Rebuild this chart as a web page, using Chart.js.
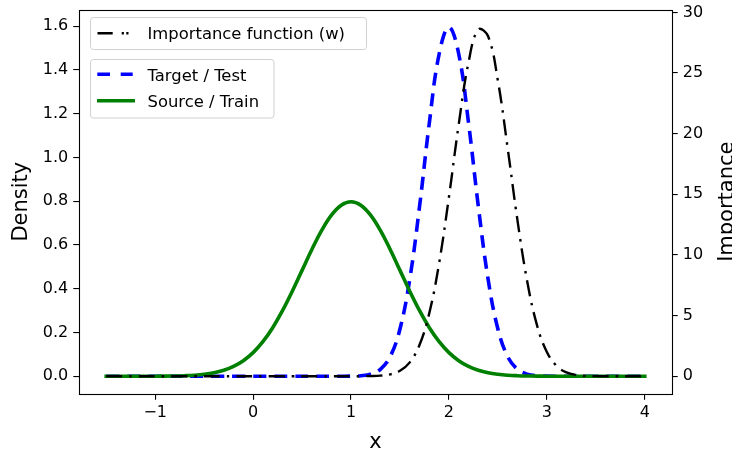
<!DOCTYPE html>
<html>
<head>
<meta charset="utf-8">
<script src="https://cdn.jsdelivr.net/npm/chart.js"></script>
<style>
  html, body { margin: 0; padding: 0; background: #fff; }
  #wrap { position: relative; width: 732px; height: 453px; }
  #legend { position: absolute; left: 0; top: 0; pointer-events: none; }
</style>
</head>
<body>
<div id="wrap">
  <canvas id="chart" width="732" height="453"></canvas>

  <!-- Légendes (deux boîtes séparées comme dans l'original) -->
  <svg id="legend" width="732" height="453" font-family="DejaVu Sans" font-size="16.4" fill="#000">
    <rect x="90.5" y="17.5" width="276" height="32" rx="3" fill="#fff" fill-opacity="0.8" stroke="#d0d0d0"/>
    <line x1="97.5" y1="33.3" x2="129" y2="33.3" stroke="#000" stroke-width="2.4" stroke-dasharray="15.2 9 2.2 2.4 2.2 100"/>
    <text x="147.5" y="39">Importance function (w)</text>

    <rect x="90.5" y="59.5" width="183.5" height="58.5" rx="3" fill="#fff" fill-opacity="0.8" stroke="#d0d0d0"/>
    <line x1="97.3" y1="74.3" x2="133" y2="74.3" stroke="#0000ff" stroke-width="3.6" stroke-dasharray="12.7 10.7 12 100"/>
    <text x="147.5" y="81.3">Target / Test</text>
    <line x1="97" y1="100.7" x2="135" y2="100.7" stroke="#008000" stroke-width="3.6"/>
    <text x="147.5" y="107.3">Source / Train</text>
  </svg>
</div>

<script>
  // Abscisses échantillonnées (pas de 0.1)
  const xValues = [
    -1.5, -1.4, -1.3, -1.2, -1.1, -1.0, -0.9, -0.8, -0.7, -0.6,
    -0.5, -0.4, -0.3, -0.2, -0.1, 0.0, 0.1, 0.2, 0.3, 0.4,
    0.5, 0.6, 0.7, 0.8, 0.9, 1.0, 1.1, 1.2, 1.3, 1.4,
    1.5, 1.6, 1.7, 1.8, 1.9, 2.0, 2.1, 2.2, 2.3, 2.4,
    2.5, 2.6, 2.7, 2.8, 2.9, 3.0, 3.1, 3.2, 3.3, 3.4,
    3.5, 3.6, 3.7, 3.8, 3.9, 4.0
  ];

  // Source / Train (vert)
  const sourceValues = [
    0, 0, 0, 0, 0.0001, 0.0003, 0.0006, 0.0012, 0.0025, 0.0048,
    0.0089, 0.0158, 0.0272, 0.0448, 0.0710, 0.1080, 0.1579, 0.2218, 0.2995, 0.3884,
    0.4839, 0.5794, 0.6665, 0.7365, 0.7821, 0.7979, 0.7821, 0.7365, 0.6665, 0.5794,
    0.4839, 0.3884, 0.2995, 0.2218, 0.1579, 0.1080, 0.0710, 0.0448, 0.0272, 0.0158,
    0.0089, 0.0048, 0.0025, 0.0012, 0.0006, 0.0003, 0.0001, 0, 0, 0,
    0, 0, 0, 0, 0, 0
  ];

  // Target / Test (bleu)
  const targetValues = [
    0, 0, 0, 0, 0, 0, 0, 0, 0, 0,
    0, 0, 0, 0, 0, 0, 0, 0, 0, 0,
    0, 0, 0, 0, 0.0001, 0.0005, 0.0024, 0.0095, 0.0317, 0.0896,
    0.2160, 0.4437, 0.7767, 1.1588, 1.4731, 1.5958, 1.4731, 1.1588, 0.7767, 0.4437,
    0.2160, 0.0896, 0.0317, 0.0095, 0.0024, 0.0005, 0.0001, 0, 0, 0,
    0, 0, 0, 0, 0, 0
  ];

  // Importance function (w), axe de droite
  const importanceValues = [
    0, 0, 0, 0, 0, 0, 0, 0, 0, 0,
    0, 0, 0, 0, 0, 0, 0, 0, 0, 0,
    0, 0, 0, 0, 0.0001, 0.0007, 0.0031, 0.0129, 0.0475, 0.1546,
    0.4463, 1.1425, 2.594, 5.223, 9.329, 14.778, 20.76, 25.87, 28.59, 28.03,
    24.36, 18.79, 12.85, 7.79, 4.19, 2.0, 0.846, 0.318, 0.106, 0.031,
    0.0082, 0.0019, 0.0004, 0.0001, 0, 0
  ];

  // Graduations
  const xTicks = [-1, 0, 1, 2, 3, 4];
  const xTickLabels = ['−1', '0', '1', '2', '3', '4'];
  const densityTicks = [0, 0.2, 0.4, 0.6, 0.8, 1.0, 1.2, 1.4, 1.6];
  const densityTickLabels = ['0.0', '0.2', '0.4', '0.6', '0.8', '1.0', '1.2', '1.4', '1.6'];
  const importanceTicks = [0, 5, 10, 15, 20, 25, 30];
  const importanceTickLabels = ['0', '5', '10', '15', '20', '25', '30'];

  const FONT = 'DejaVu Sans';
  const toPoints = vals => xValues.map((x, i) => ({ x: x, y: vals[i] }));

  // Cadre complet + titre de l'axe de droite (lu de bas en haut)
  const framePlugin = {
    id: 'frame',
    afterDraw(chart) {
      const { ctx, chartArea: a } = chart;
      ctx.save();
      ctx.strokeStyle = '#000';
      ctx.lineWidth = 1.1;
      ctx.strokeRect(Math.round(a.left) + 0.5, Math.round(a.top) + 0.5,
        Math.round(a.right) - Math.round(a.left), Math.round(a.bottom) - Math.round(a.top));
      ctx.translate(chart.width + 0.6, (a.top + a.bottom) / 2);
      ctx.rotate(-Math.PI / 2);
      ctx.font = '21px "' + FONT + '"';
      ctx.fillStyle = '#000';
      ctx.textAlign = 'center';
      ctx.textBaseline = 'alphabetic';
      ctx.fillText('Importance', 0, 0);
      ctx.restore();
    }
  };

  const tickGrid = { display: true, drawOnChartArea: false, drawTicks: true, tickLength: 6, color: '#000', lineWidth: 1.1 };

  new Chart(document.getElementById('chart').getContext('2d'), {
    type: 'line',
    data: {
      datasets: [
        {
          label: 'Importance function (w)',
          data: toPoints(importanceValues),
          yAxisID: 'yImp',
          borderColor: '#000',
          borderWidth: 2.4,
          borderDash: [16, 7, 2.5, 7],
          pointRadius: 0,
          tension: 0.4,
          order: 0
        },
        {
          label: 'Source / Train',
          data: toPoints(sourceValues),
          yAxisID: 'y',
          borderColor: '#008000',
          borderWidth: 3.6,
          borderCapStyle: 'square',
          pointRadius: 0,
          tension: 0.4,
          order: 1
        },
        {
          label: 'Target / Test',
          data: toPoints(targetValues),
          yAxisID: 'y',
          borderColor: '#0000ff',
          borderWidth: 3.6,
          borderDash: [13, 8],
          pointRadius: 0,
          tension: 0.4,
          order: 2
        }
      ]
    },
    options: {
      responsive: false,
      animation: false,
      devicePixelRatio: 1,
      layout: { padding: { top: 9.7, left: 0, right: 0, bottom: 0 } },
      plugins: { legend: { display: false }, tooltip: { enabled: false } },
      scales: {
        x: {
          type: 'linear',
          min: -1.775,
          max: 4.275,
          grid: tickGrid,
          border: { display: false },
          ticks: {
            autoSkip: false, maxRotation: 0, padding: 4, color: '#000',
            font: { family: FONT, size: 16 },
            callback: (v, i) => xTickLabels[i]
          },
          afterBuildTicks: s => { s.ticks = xTicks.map(v => ({ value: v })); },
          afterFit: s => { s.height = 59.3; s.paddingLeft = 0; s.paddingRight = 0; },
          title: { display: true, text: 'x', color: '#000', font: { family: FONT, size: 21, lineHeight: 1 }, padding: { top: 0, bottom: 0 } }
        },
        y: {
          position: 'left',
          min: -0.0798,
          max: 1.6756,
          grid: tickGrid,
          border: { display: false },
          ticks: {
            autoSkip: false, padding: 5, color: '#000',
            font: { family: FONT, size: 16 },
            callback: (v, i) => densityTickLabels[i]
          },
          afterBuildTicks: s => { s.ticks = densityTicks.map(v => ({ value: v })); },
          afterFit: s => { s.width = 79.3; s.paddingTop = 0; s.paddingBottom = 0; },
          title: { display: true, text: 'Density', color: '#000', font: { family: FONT, size: 21, lineHeight: 1 }, padding: { top: 11.5, bottom: 0 } }
        },
        yImp: {
          position: 'right',
          min: -1.439,
          max: 30.22,
          grid: tickGrid,
          border: { display: false },
          ticks: {
            autoSkip: false, padding: 5, color: '#000',
            font: { family: FONT, size: 16 },
            callback: (v, i) => importanceTickLabels[i]
          },
          afterBuildTicks: s => { s.ticks = importanceTicks.map(v => ({ value: v })); },
          afterFit: s => { s.width = 60.3; s.paddingTop = 0; s.paddingBottom = 0; }
        }
      }
    },
    plugins: [framePlugin]
  });
</script>
</body>
</html>
